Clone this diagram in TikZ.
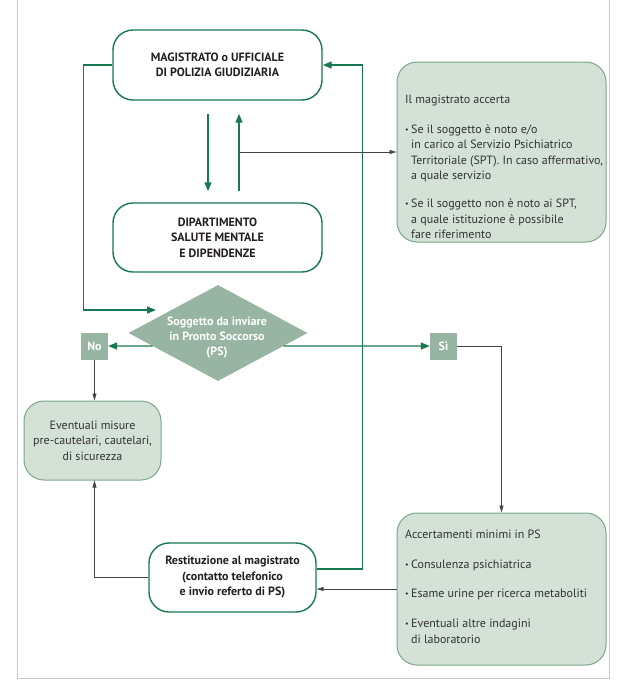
\documentclass[tikz,border=0pt]{standalone}
\usepackage{fontspec}
\setmainfont{PT Sans}
\usetikzlibrary{shapes.geometric,arrows.meta,calc}
\definecolor{gline}{HTML}{17794F}
\definecolor{dfill}{HTML}{97B5A2}
\definecolor{lfill}{HTML}{D3E1D6}
\definecolor{lborder}{HTML}{7DA68C}
\definecolor{framec}{HTML}{C8C8C8}
\definecolor{txt}{HTML}{231F20}
\definecolor{btxt}{HTML}{333333}
\definecolor{bline}{HTML}{444444}
\newcommand{\mybul}{\makebox[6pt][l]{\raisebox{1pt}{\fontsize{8}{8}\selectfont •}}}
\begin{document}
\begin{tikzpicture}[x=1pt,y=-1pt,
  font=\fontsize{12}{15.5}\selectfont,
  whitebox/.style={draw=gline, line width=1.4pt, rounded corners=20pt, fill=white,
    align=center, text=txt, font=\fontsize{12}{15.5}\selectfont\bfseries, inner sep=0pt},
  greenbox/.style={draw=lborder, line width=1pt, rounded corners=20pt, fill=lfill,
    align=center, text=btxt, inner sep=0pt},
  tagbox/.style={fill=dfill, text=white, font=\fontsize{12}{13}\selectfont\bfseries,
    minimum width=27pt, minimum height=27pt, inner sep=0pt},
  decision/.style={diamond, fill=dfill, minimum width=179pt, minimum height=96pt, inner sep=0pt},
  garrow/.style={draw=gline, line width=1.4pt, -{Triangle[length=9pt,width=7pt]}},
  barrow/.style={draw=bline, line width=0.7pt, -{Triangle[length=7pt,width=4pt]}},
  bodytext/.style={align=left, text=btxt, inner sep=0pt, anchor=north west, font=\fontsize{12}{15.5}\selectfont},
]
\useasboundingbox (0,0) rectangle (629,691);
% frame
\draw[framec, line width=0.8pt] (17,0) -- (17,678) -- (609,678) -- (609,0);

% nodes
\node[whitebox, minimum width=209pt, minimum height=70pt] (mag) at (217.5,65)
  {MAGISTRATO o UFFICIALE\\DI POLIZIA GIUDIZIARIA};
\node[whitebox, minimum width=209pt, minimum height=69pt] (dip) at (217.5,237.5)
  {DIPARTIMENTO\\SALUTE MENTALE\\E DIPENDENZE};
\node[greenbox, minimum width=209pt, minimum height=180pt] (info) at (501.5,152) {};
\node[bodytext] (infotext) at (405,94.5) {Il magistrato accerta\\[14.5pt]
  \mybul Se il soggetto è noto e/o\\
  \hspace*{6pt}in carico al Servizio Psichiatrico\\
  \hspace*{6pt}Territoriale (SPT). In caso affermativo,\\
  \hspace*{6pt}a quale servizio\\[12.5pt]
  \mybul Se il soggetto non è noto ai SPT,\\
  \hspace*{6pt}a quale istituzione è possibile\\
  \hspace*{6pt}fare riferimento};

\node[decision] (d) at (218,333) {};
\node[text=white, align=center, font=\fontsize{12}{15}\selectfont\bfseries, inner sep=0pt] (dtext) at (217,338)
  {Soggetto da inviare\\in Pronto Soccorso\\(PS)};

\node[tagbox] (no) at (94.5,346) {No};
\node[tagbox] (si) at (443.5,346) {Sì};

\node[greenbox, minimum width=137pt, minimum height=79pt] (ev) at (92.5,440.5)
  {Eventuali misure\\pre-cautelari, cautelari,\\di sicurezza};
\node[whitebox, minimum width=167pt, minimum height=69pt] (res) at (232.5,577.5)
  {Restituzione al magistrato\\(contatto telefonico\\e invio referto di PS)};
\node[greenbox, minimum width=209pt, minimum height=152pt] (acc) at (501.5,589) {};
\node[bodytext] (acctext) at (405,530) {Accertamenti minimi in PS\\[14.5pt]
  \mybul Consulenza psichiatrica\\[13.5pt]
  \mybul Esame urine per ricerca metaboliti\\[14.5pt]
  \mybul Eventuali altre indagini\\
  \hspace*{6pt}di laboratorio};

% helper coordinates
\coordinate (lv) at (83.5,0);
\coordinate (rv) at (362.5,0);
\coordinate (ltip) at (156,310);
\coordinate (dx) at ([xshift=-9.5pt]mag.south);
\coordinate (ux) at ([xshift=21.5pt]mag.south);

% connectors
\draw[garrow] (mag.west) -| (lv |- ltip) -- (ltip);
\draw[garrow, shorten <=13pt, shorten >=11pt] (dx) -- (dx |- dip.north);
\draw[garrow, shorten <=11pt, shorten >=13pt] (ux |- dip.north) -- (ux);
\draw[barrow] ([xshift=1pt]ux |- info.west) -- (info.west);
\draw[garrow] ($(d.west)!0.27!(d.south)$) -- (no.east);
\draw[garrow] ($(d.east)!0.27!(d.south)$) -- (si.west);
\draw[barrow] (si.east) -| (acc.north);
\draw[barrow] (no.south) -- (no.south |- ev.north);
\draw[barrow] (acc.west) -- (acc.west -| res.east);
\draw[barrow] (res.west) -| (no.south |- ev.south);
\draw[garrow] ([yshift=8.5pt]res.east) -| (rv |- mag.east) -- (mag.east);
\end{tikzpicture}
\end{document}
